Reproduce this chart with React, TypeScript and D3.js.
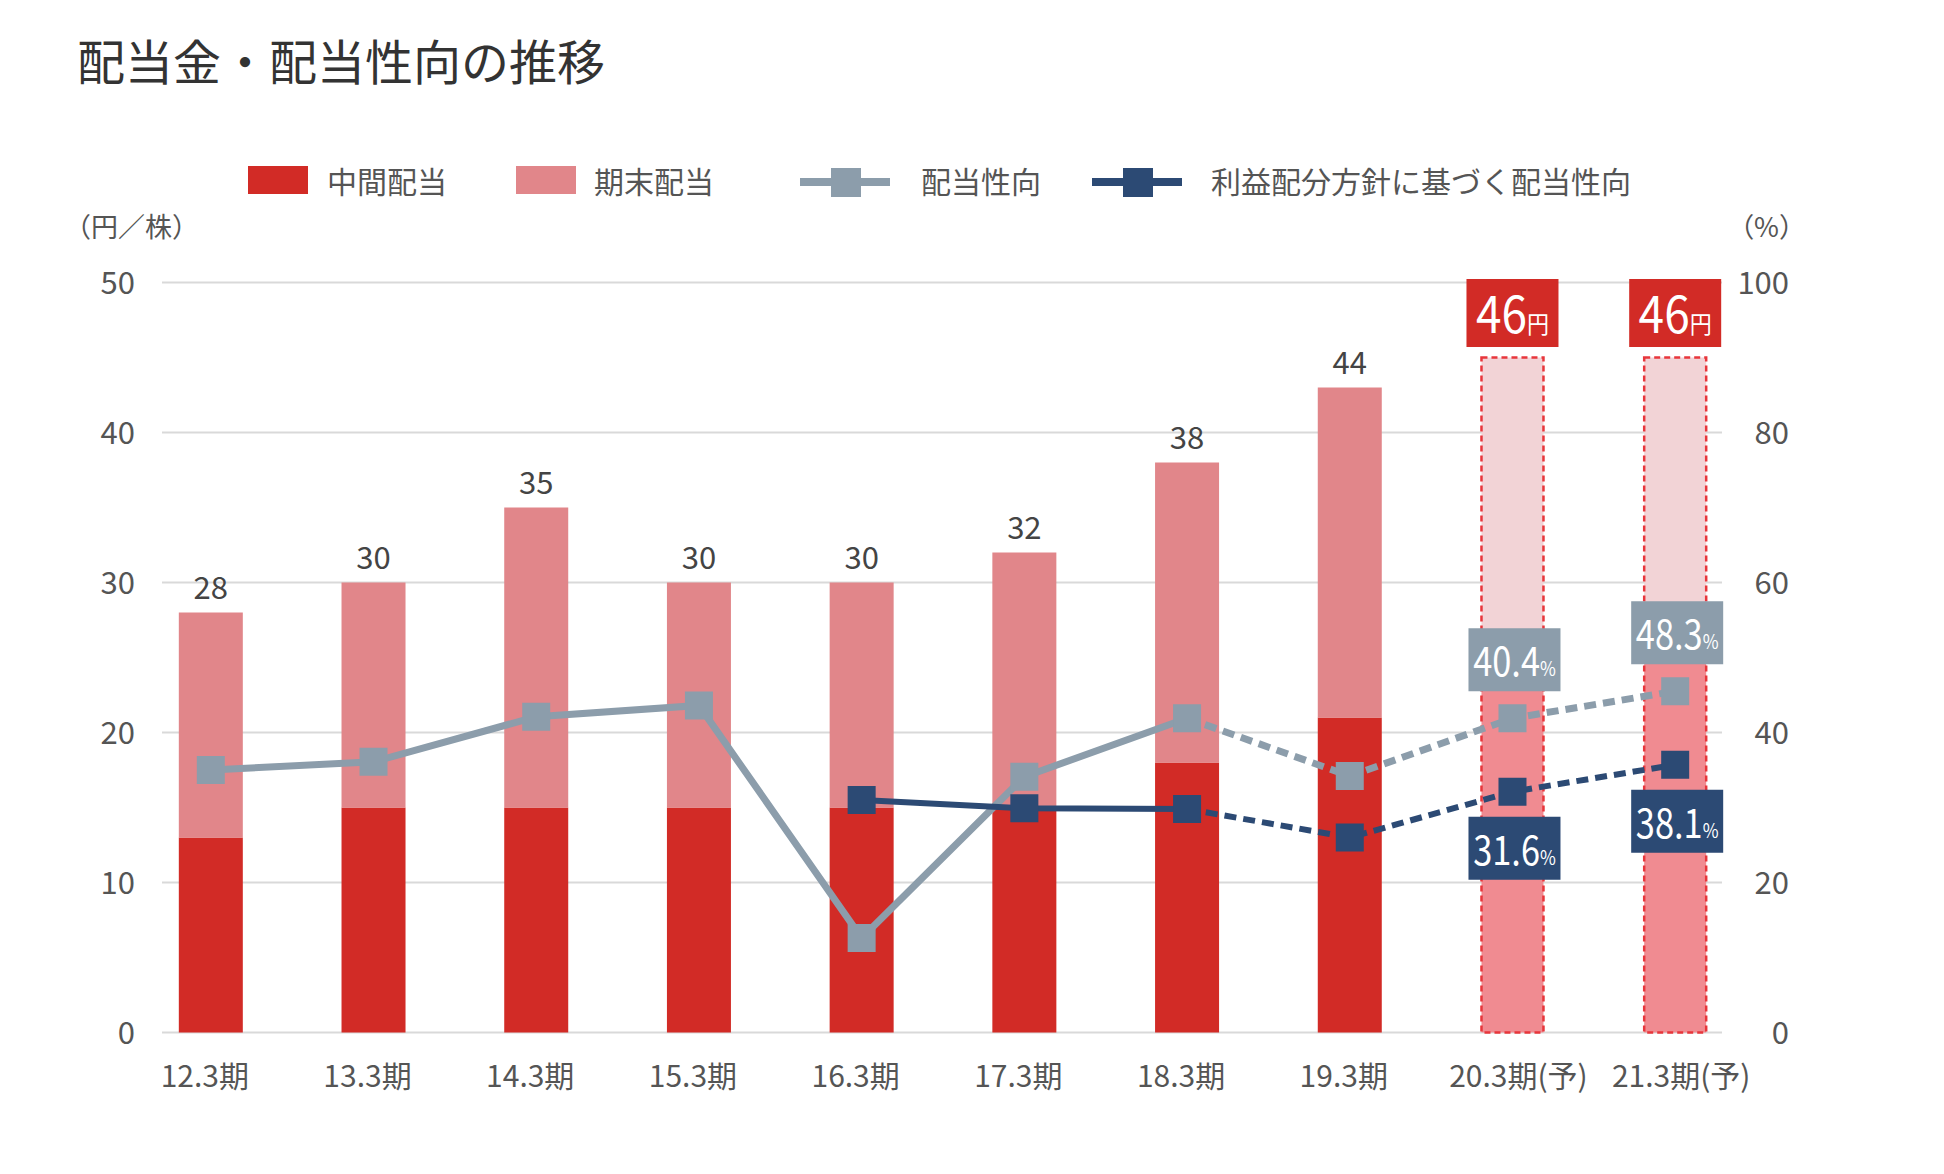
import * as d3 from 'd3';
import * as React from 'react';

const WIDTH = 1944;
const HEIGHT = 1174;
const FONT = '"Noto Sans CJK JP", "Noto Sans", sans-serif';

const categories = [
  '12.3期', '13.3期', '14.3期', '15.3期', '16.3期',
  '17.3期', '18.3期', '19.3期', '20.3期(予)', '21.3期(予)',
];
const interim = [13, 15, 15, 15, 15, 15, 18, 21, 26, 26];
const yearEnd = [15, 15, 20, 15, 15, 17, 20, 22, 19, 19];
const totalLabels = ['28', '30', '35', '30', '30', '32', '38', '44', '46', '46'];
const isForecast = [false, false, false, false, false, false, false, false, true, true];
const payoutRatio = [35.0, 36.1, 42.1, 43.6, 12.6, 34.1, 41.9, 34.2, 41.9, 45.5];
const policyRatio = [null, null, null, null, 31.0, 29.9, 29.8, 26.0, 32.1, 35.7];
const payoutLabels = [null, null, null, null, null, null, null, null, '40.4', '48.3'];
const policyLabels = [null, null, null, null, null, null, null, null, '31.6', '38.1'];
const leftTicks = [0, 10, 20, 30, 40, 50];
const rightTicks = [0, 20, 40, 60, 80, 100];
const LAST_ACTUAL = 6; // 18.3期: lines turn dashed after this

const C_INTERIM = '#d22b26';
const C_YEAREND = '#e1868a';
const C_FC_UPPER = '#f2d3d6';
const C_FC_LOWER = '#f08b91';
const C_FC_EDGE = '#e8363b';
const C_GRAY = '#8c9dab';
const C_NAVY = '#2c4a74';
const C_TEXT = '#555';

const x = d3.scalePoint<string>().domain(categories).range([162, 1724]).padding(0.3);
const yL = d3.scaleLinear().domain([0, 50]).range([1032.5, 282.5]);
const yR = d3.scaleLinear().domain([0, 100]).range([1032.5, 282.5]);
const BAR_W = 64;
const MARK = 28;

type Pt = [number, number];
const line = d3.line<Pt>().x(d => d[0]).y(d => d[1]);

function points(vals: (number | null)[], from: number, to: number): Pt[] {
  const out: Pt[] = [];
  for (let i = from; i <= to; i++) {
    const v = vals[i];
    if (v != null) out.push([x(categories[i]) as number, yR(v)]);
  }
  return out;
}

function Series({ vals, color, width }: { vals: (number | null)[]; color: string; width: number }) {
  const solid = points(vals, 0, LAST_ACTUAL);
  const dashed = points(vals, LAST_ACTUAL, vals.length - 1);
  return (
    <g>
      <path d={line(solid) || ''} fill="none" stroke={color} strokeWidth={width} />
      <path d={line(dashed) || ''} fill="none" stroke={color} strokeWidth={width} strokeDasharray="12 7" />
      {vals.map((v, i) =>
        v == null ? null : (
          <rect
            key={i}
            x={(x(categories[i]) as number) - MARK / 2}
            y={yR(v) - MARK / 2}
            width={MARK}
            height={MARK}
            fill={color}
          />
        )
      )}
    </g>
  );
}

function PctBox({ cx, top, label, color }: { cx: number; top: number; label: string; color: string }) {
  return (
    <g>
      <rect x={cx - 46} y={top} width={92} height={63} fill={color} />
      <text
        transform={`translate(${cx},${top + 48}) scale(0.86,1)`}
        textAnchor="middle"
        fill="#fff"
        fontFamily={FONT}
      >
        <tspan fontSize={40}>{label}</tspan>
        <tspan fontSize={20}>%</tspan>
      </text>
    </g>
  );
}

export default function App() {
  return (
    <div style={{ position: 'absolute', left: 0, top: 0 }}>
      <svg width={WIDTH} height={HEIGHT} viewBox={`0 0 ${WIDTH} ${HEIGHT}`} style={{ display: 'block', background: '#fff' }}>
        <text x={77} y={80} fontSize={48} fill="#333" fontFamily={FONT}>配当金・配当性向の推移</text>

        {/* legend */}
        <g fontFamily={FONT} fontSize={30} fill={C_TEXT}>
          <rect x={248} y={166} width={60} height={28} fill={C_INTERIM} />
          <text x={327} y={193}>中間配当</text>
          <rect x={516} y={166} width={60} height={28} fill={C_YEAREND} />
          <text x={594} y={193}>期末配当</text>
          <line x1={800} x2={890} y1={182} y2={182} stroke={C_GRAY} strokeWidth={8} />
          <rect x={831} y={168} width={30} height={29} fill={C_GRAY} />
          <text x={921} y={193}>配当性向</text>
          <line x1={1092} x2={1182} y1={182} y2={182} stroke={C_NAVY} strokeWidth={8} />
          <rect x={1123} y={168} width={30} height={29} fill={C_NAVY} />
          <text x={1211} y={193}>利益配分方針に基づく配当性向</text>
        </g>

        <text x={64} y={237} fontSize={27} fill={C_TEXT} fontFamily={FONT}>（円／株）</text>
        <text x={1806} y={237} fontSize={27} fill={C_TEXT} fontFamily={FONT} textAnchor="end">（%）</text>

        {/* grid + axes */}
        {leftTicks.map(t => (
          <line key={t} x1={162} x2={1722} y1={yL(t)} y2={yL(t)} stroke="#d9d9d9" strokeWidth={2} />
        ))}
        <g fontFamily={FONT} fontSize={31} fill={C_TEXT}>
          {leftTicks.map(t => (
            <text key={t} x={135} y={yL(t) + 11} textAnchor="end">{t}</text>
          ))}
          {rightTicks.map(t => (
            <text key={t} x={1789} y={yR(t) + 11} textAnchor="end">{t}</text>
          ))}
          {categories.map(c => (
            <text key={c} x={(x(c) as number) + (c.includes('予') ? 6 : -6)} y={1087} fontSize={30} textAnchor="middle">{c}</text>
          ))}
        </g>

        {/* bars */}
        {categories.map((c, i) => {
          const cx = x(c) as number;
          const top = yL(interim[i] + yearEnd[i]);
          if (isForecast[i]) {
            const w = BAR_W - 2;
            return (
              <g key={c}>
                <rect x={cx - w / 2} y={yL(interim[i])} width={w} height={yL(0) - yL(interim[i])} fill={C_FC_LOWER} />
                <rect x={cx - w / 2} y={top} width={w} height={yL(interim[i]) - top} fill={C_FC_UPPER} />
                <rect x={cx - w / 2} y={top} width={w} height={yL(0) - top} fill="none" stroke={C_FC_EDGE} strokeWidth={2.5} strokeDasharray="6 4" />
              </g>
            );
          }
          return (
            <g key={c}>
              <rect x={cx - BAR_W / 2} y={yL(interim[i])} width={BAR_W} height={yL(0) - yL(interim[i])} fill={C_INTERIM} />
              <rect x={cx - BAR_W / 2} y={top} width={BAR_W} height={yL(interim[i]) - top} fill={C_YEAREND} />
              <text x={cx} y={top - 14} textAnchor="middle" fontSize={31} fill="#444" fontFamily={FONT}>{totalLabels[i]}</text>
            </g>
          );
        })}

        {/* forecast totals */}
        {categories.map((c, i) => {
          if (!isForecast[i]) return null;
          const cx = x(c) as number;
          return (
            <g key={c}>
              <rect x={cx - 46} y={279} width={92} height={68} fill={C_INTERIM} />
              <text
                transform={`translate(${cx},333) scale(0.92,1)`}
                textAnchor="middle"
                fill="#fff"
                fontFamily={FONT}
              >
                <tspan fontSize={50}>{totalLabels[i]}</tspan>
                <tspan fontSize={24}>円</tspan>
              </text>
            </g>
          );
        })}

        <Series vals={payoutRatio} color={C_GRAY} width={7} />
        <Series vals={policyRatio} color={C_NAVY} width={6} />

        {categories.map((c, i) => {
          const cx = x(c) as number;
          const g = payoutLabels[i];
          const n = policyLabels[i];
          return (
            <g key={c}>
              {g && <PctBox cx={cx + 2} top={yR(payoutRatio[i]) - 27 - 63} label={g} color={C_GRAY} />}
              {n && <PctBox cx={cx + 2} top={yR(policyRatio[i] as number) + 25} label={n} color={C_NAVY} />}
            </g>
          );
        })}
      </svg>
    </div>
  );
}
